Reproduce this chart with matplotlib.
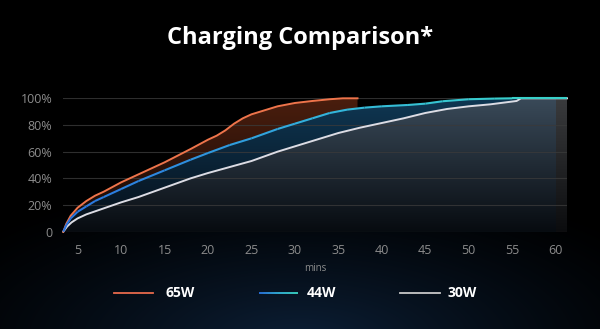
import numpy as np
import matplotlib
matplotlib.use("Agg")
import matplotlib.pyplot as plt
from matplotlib.collections import LineCollection
from matplotlib.colors import LinearSegmentedColormap, to_rgb
from matplotlib.lines import Line2D

plt.rcParams['font.family'] = ['Open Sans', 'DejaVu Sans']

# values (minutes, % charged)
t65 = [3.35, 3.7, 4.2, 5, 6, 7, 8, 10, 12, 15, 18, 20, 21, 22, 23, 24, 25, 26.5, 28, 30, 32, 34, 35.5, 37.2]
p65 = [0, 6, 12, 18, 23, 27, 30, 37, 43, 52, 62, 69, 72, 76, 81, 85, 88, 91, 94, 96.5, 98, 99.3, 100, 100]

t44 = [3.35, 3.7, 4.2, 5, 6, 7, 8, 10, 12, 15, 18, 20, 22.5, 25, 28, 30, 32, 34, 36, 38, 40, 43, 45, 47, 50, 53, 55, 61.3]
p44 = [0, 5, 10, 15, 19, 23, 26, 32, 38, 46, 54, 59, 65, 70, 77, 81, 85, 89, 91.5, 93, 94, 95, 96, 97.8, 99.3, 99.8, 100, 100]

t30 = [3.35, 3.8, 4.3, 5, 6, 8, 10, 12, 15, 18, 20, 22.5, 25, 28, 30, 32.5, 35, 37.5, 40, 42.5, 45, 47.5, 50, 52.5, 55.5, 56, 61.3]
p30 = [0, 4, 7, 10, 13, 17.5, 22, 26, 33, 40, 44, 48.5, 53, 60, 64, 69, 74, 78, 81.5, 85, 89, 92, 94, 95.5, 98, 100, 100]

xticks = [5, 10, 15, 20, 25, 30, 35, 40, 45, 50, 55, 60]
yticks = [0, 20, 40, 60, 80, 100]
ylabels = ['0', '20%', '40%', '60%', '80%', '100%']
names = ['65W', '44W', '30W']

fig = plt.figure(figsize=(6, 3.29), dpi=100)
fig.patch.set_facecolor('black')

# background glow, dark navy at bottom centre
bg = fig.add_axes([0, 0, 1, 1], zorder=-10)
bg.axis('off')
yy, xx = np.mgrid[0:329, 0:600]
d = np.sqrt(((xx - 300) / 420.0) ** 2 + ((yy - 340) / 170.0) ** 2)
w = np.clip(1 - d, 0, 1) ** 1.3
navy = np.array(to_rgb('#0c1f36'))
img = w[..., None] * navy[None, None, :]
bg.imshow(img, extent=[0, 1, 0, 1], aspect='auto', origin='upper')
bg.set_xlim(0, 1)
bg.set_ylim(0, 1)

ax = fig.add_axes([0.1055, 0.2957, 0.8395, 0.4055])
ax.patch.set_alpha(0)
ax.set_xlim(3.35, 61.3)
ax.set_ylim(0, 100)
for s in ax.spines.values():
    s.set_visible(False)


def grad_fill(t, p, top, bottom, z):
    poly = ax.fill_between(t, p, 0, color='none', lw=0, zorder=z)
    cm = LinearSegmentedColormap.from_list('g', [bottom, top])
    g = np.linspace(0, 1, 256).reshape(-1, 1)
    im = ax.imshow(g, cmap=cm, aspect='auto', origin='lower',
                   extent=[3.35, 61.3, 0, 100], zorder=z)
    im.set_clip_path(poly.get_paths()[0], transform=ax.transData)


grad_fill(t65, p65, '#4a1e0e', '#120704', 1)
grad_fill(t44, p44, '#0f3753', '#050d16', 2)
grad_fill(t30, p30, '#3a4a59', '#070b10', 3)
# greyish band past 60 min
grad_fill([60, 61.3], [100, 100], '#3a3b3d', '#0b0c0e', 4)

for v in yticks:
    ax.axhline(v, color='#3a3a3a', lw=0.8, alpha=0.8, zorder=5)

ax.plot(t65, p65, color='#ee744b', lw=1.4, zorder=7, clip_on=False)
ax.plot(t30, p30, color='#dcdce4', lw=1.4, zorder=6, clip_on=False)

cm44 = LinearSegmentedColormap.from_list('c44', ['#2a74e0', '#33b4dc', '#3ad8c4'])
pts = np.array([t44, p44]).T.reshape(-1, 1, 2)
segs = np.concatenate([pts[:-1], pts[1:]], axis=1)
lc = LineCollection(segs, cmap=cm44, norm=plt.Normalize(3.35, 61.3), lw=1.5, zorder=8)
lc.set_array(np.array(t44[:-1]))
lc.set_clip_on(False)
ax.add_collection(lc)

ax.set_xticks(xticks)
ax.set_yticks(yticks)
ax.set_yticklabels(ylabels)
ax.tick_params(length=0, colors='#8c8c8c', labelsize=9)
ax.tick_params(axis='x', pad=9)
ax.tick_params(axis='y', pad=8)
ax.set_xlabel('mins', color='#8c8c8c', fontsize=7, labelpad=4)

fig.text(0.5, 0.885, 'Charging Comparison*', color='white', fontsize=17,
         fontweight='bold', ha='center', va='center')

# legend
ly = 1 - 293 / 329
fig.add_artist(Line2D([114 / 600, 153 / 600], [ly, ly], color='#e86a4c', lw=1.3))
gx = np.linspace(259, 298, 30) / 600
gp = np.array([gx, np.full_like(gx, ly)]).T.reshape(-1, 1, 2)
lg = LineCollection(np.concatenate([gp[:-1], gp[1:]], axis=1), cmap=cm44,
                    transform=fig.transFigure, lw=1.3)
lg.set_array(np.linspace(0, 1, 29))
fig.add_artist(lg)
fig.add_artist(Line2D([400 / 600, 440 / 600], [ly, ly], color='#c8c8c8', lw=1.3))
for xpx, name in zip([165, 307, 448], names):
    fig.text(xpx / 600, ly, name, color='white', fontsize=10, fontweight='bold',
             ha='left', va='center')

fig.savefig('out.png', dpi=100, facecolor='black')
